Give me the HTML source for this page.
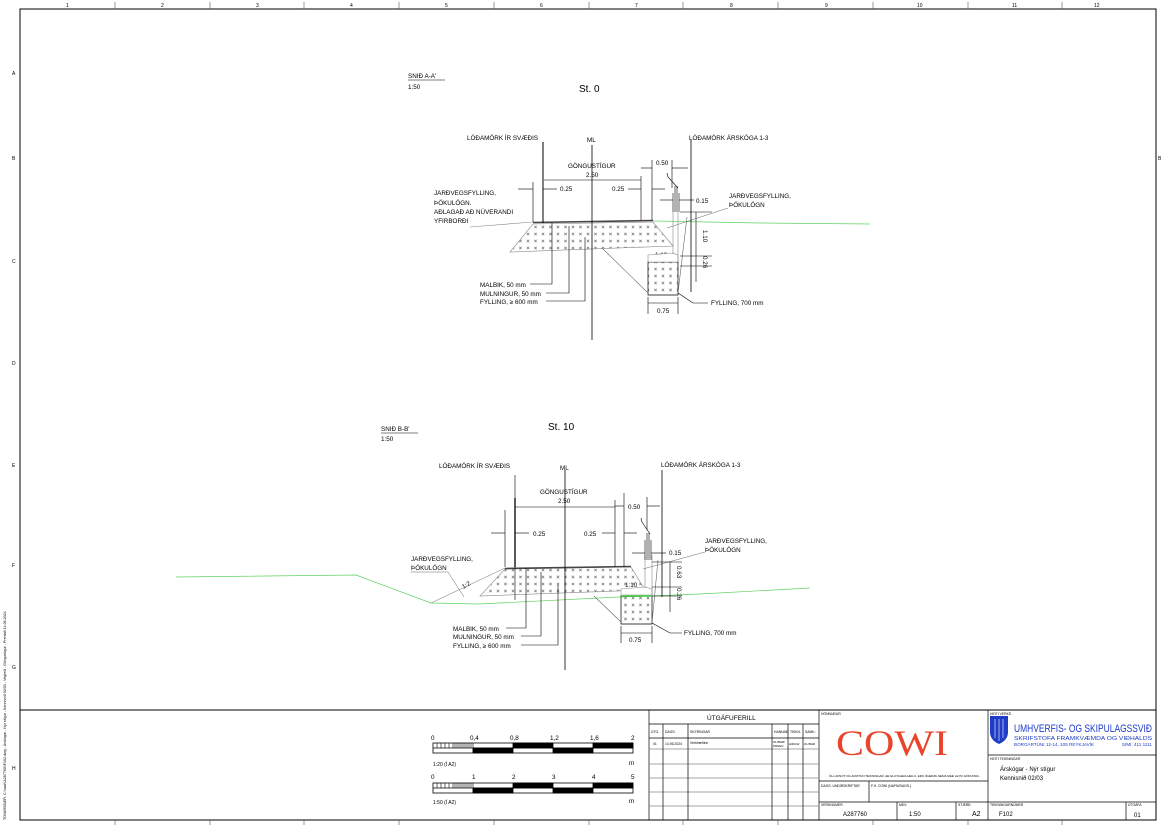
<!DOCTYPE html>
<html><head><meta charset="utf-8"><style>
html,body{margin:0;padding:0;background:#fff}
svg{display:block}
text{font-family:"Liberation Sans",sans-serif;fill:#000}
.t{font-size:6.3px}
.s{font-size:3.6px}
</style></head><body>
<svg width="1162" height="825" viewBox="0 0 1162 825" xmlns="http://www.w3.org/2000/svg">
<defs>
<pattern id="hx" width="7.5" height="7" patternUnits="userSpaceOnUse">
<path d="M1.8 1.8 L4.2 4.2 M4.2 1.8 L1.8 4.2" stroke="#777" stroke-width="0.7"/>
</pattern>
</defs>
<rect width="1162" height="825" fill="#fff"/>
<rect x="20" y="9" width="1136" height="811" fill="none" stroke="#000" stroke-width="1"/>
<line x1="20" y1="710" x2="1156" y2="710" stroke="#000" stroke-width="1"/>
<g stroke="#555" stroke-width="0.6">
<line x1="115" y1="2" x2="115" y2="9"/><line x1="210" y1="2" x2="210" y2="9"/><line x1="304" y1="2" x2="304" y2="9"/><line x1="399" y1="2" x2="399" y2="9"/><line x1="494" y1="2" x2="494" y2="9"/><line x1="589" y1="2" x2="589" y2="9"/><line x1="683" y1="2" x2="683" y2="9"/><line x1="778" y1="2" x2="778" y2="9"/><line x1="873" y1="2" x2="873" y2="9"/><line x1="968" y1="2" x2="968" y2="9"/><line x1="1062" y1="2" x2="1062" y2="9"/>
<line x1="115" y1="820" x2="115" y2="825"/><line x1="210" y1="820" x2="210" y2="825"/><line x1="304" y1="820" x2="304" y2="825"/><line x1="399" y1="820" x2="399" y2="825"/><line x1="494" y1="820" x2="494" y2="825"/><line x1="589" y1="820" x2="589" y2="825"/><line x1="683" y1="820" x2="683" y2="825"/><line x1="778" y1="820" x2="778" y2="825"/><line x1="873" y1="820" x2="873" y2="825"/><line x1="968" y1="820" x2="968" y2="825"/><line x1="1062" y1="820" x2="1062" y2="825"/>
</g>
<g class="t" font-size="5" fill="#333">
<text x="66" y="7" font-size="5">1</text><text x="161" y="7" font-size="5">2</text><text x="256" y="7" font-size="5">3</text><text x="350" y="7" font-size="5">4</text><text x="445" y="7" font-size="5">5</text><text x="540" y="7" font-size="5">6</text><text x="635" y="7" font-size="5">7</text><text x="730" y="7" font-size="5">8</text><text x="825" y="7" font-size="5">9</text><text x="917" y="7" font-size="5">10</text><text x="1012" y="7" font-size="5">11</text><text x="1094" y="7" font-size="5">12</text>
<text x="12" y="75" font-size="5">A</text><text x="12" y="160" font-size="5">B</text><text x="12" y="263" font-size="5">C</text><text x="12" y="365" font-size="5">D</text><text x="12" y="467" font-size="5">E</text><text x="12" y="567" font-size="5">F</text><text x="12" y="669" font-size="5">G</text><text x="12" y="770" font-size="5">H</text>
<text x="1158" y="160" font-size="5">B</text>
</g>
<text transform="translate(6,820) rotate(-90)" font-size="3.6" fill="#555">TOVARSBÆR, C:\\cad\\A287760\\F102.dwg - Árskógar - Nýr stígur - Kennisnið 02/03 - Vegleið - Göngustígur - Prentað 14.06.2024</text>

<!-- SECTION A -->
<text class="t" x="408" y="78" font-size="6.5">SNIÐ A-A'</text>
<line x1="408" y1="80" x2="445" y2="80" stroke="#000" stroke-width="0.6"/>
<text class="t" x="408" y="89" font-size="6.5">1:50</text>
<text x="579" y="92" font-size="10">St. 0</text>
<text class="t" x="467" y="140">LÓÐAMÖRK ÍR SVÆÐIS</text>
<text class="t" x="587" y="142">ML</text>
<text class="t" x="689" y="140">LÓÐAMÖRK ÁRSKÓGA 1-3</text>
<text class="t" x="568" y="168">GÖNGUSTÍGUR</text>
<text class="t" x="586" y="177">2.50</text>
<text class="t" x="434" y="195">JARÐVEGSFYLLING,</text>
<text class="t" x="434" y="205">ÞÖKULÖGN.</text>
<text class="t" x="434" y="214">AÐLAGAÐ AÐ NÚVERANDI</text>
<text class="t" x="434" y="223">YFIRBORÐI</text>
<text class="t" x="729" y="198">JARÐVEGSFYLLING,</text>
<text class="t" x="729" y="207">ÞÖKULÖGN</text>
<text class="t" x="560" y="191">0.25</text>
<text class="t" x="612" y="191">0.25</text>
<text class="t" x="656" y="165">0.50</text>
<text class="t" x="696" y="203">0.15</text>
<text class="t" x="655" y="257">1:10</text>
<text class="t" x="657" y="313">0.75</text>
<text class="t" transform="translate(703,230) rotate(90)">1.10</text>
<text class="t" transform="translate(703,256) rotate(90)">0.26</text>
<text class="t" x="480" y="287">MALBIK, 50 mm</text>
<text class="t" x="480" y="296">MULNINGUR, 50 mm</text>
<text class="t" x="480" y="304">FYLLING, ≥ 600 mm</text>
<text class="t" x="711" y="305">FYLLING, 700 mm</text>
<polyline points="470,227 533,222" fill="none" stroke="#888" stroke-width="0.6"/>
<polyline points="653,221 760,223 870,224" fill="none" stroke="#5fd35f" stroke-width="0.7"/>
<polygon points="533,224 653,222 673,246 510,252" fill="url(#hx)" stroke="#888" stroke-width="0.6"/>
<line x1="533" y1="222.5" x2="653" y2="220.5" stroke="#444" stroke-width="1.6"/>
<polygon points="648,262 678,262 678,295 648,295" fill="url(#hx)" stroke="#000" stroke-width="0.7"/>
<polygon points="648,255 673,253 678,255 678,262 648,262" fill="#fff" stroke="#888" stroke-width="0.6"/>
<line x1="673" y1="212" x2="673" y2="254" stroke="#888" stroke-width="0.6"/>
<line x1="678" y1="212" x2="678" y2="262" stroke="#888" stroke-width="0.6"/>
<line x1="602" y1="248" x2="648" y2="293" stroke="#666" stroke-width="0.6"/>
<line x1="687" y1="217" x2="678" y2="293" stroke="#666" stroke-width="0.6"/>
<polyline points="678,293 693,303 708,303" fill="none" stroke="#000" stroke-width="0.6"/>
<line x1="728" y1="208" x2="667" y2="228" stroke="#666" stroke-width="0.5"/>
<g stroke="#000" stroke-width="0.6" fill="none">
<line x1="673" y1="193" x2="673" y2="212"/><line x1="675" y1="186" x2="675" y2="212"/><line x1="677" y1="186" x2="677" y2="212"/><line x1="679" y1="193" x2="679" y2="212"/>
<polyline points="667,173 668,177 678,188"/>
<line x1="543" y1="142" x2="543" y2="223" stroke-width="1"/>
<line x1="592" y1="145" x2="592" y2="340" stroke-width="0.8"/>
<line x1="691" y1="140" x2="691" y2="292" stroke-width="0.8"/>
<line x1="533" y1="182" x2="533" y2="222"/>
<line x1="641" y1="176" x2="641" y2="220"/>
<line x1="652" y1="160" x2="652" y2="220"/>
<line x1="672" y1="160" x2="672" y2="188"/>
<line x1="544" y1="180" x2="641" y2="180"/>
<line x1="518" y1="189" x2="533" y2="189"/><line x1="543" y1="189" x2="557" y2="189"/>
<line x1="628" y1="189" x2="641" y2="189"/><line x1="652" y1="189" x2="665" y2="189"/>
<line x1="641" y1="168" x2="652" y2="168"/><line x1="672" y1="168" x2="688" y2="168"/>
<line x1="660" y1="200" x2="673" y2="200"/><line x1="679" y1="200" x2="694" y2="200"/>
<line x1="696" y1="212" x2="696" y2="282"/>
<line x1="680" y1="212" x2="712" y2="212"/><line x1="680" y1="256" x2="712" y2="256"/><line x1="680" y1="266" x2="712" y2="266"/>
<line x1="648" y1="297" x2="648" y2="314"/><line x1="678" y1="297" x2="678" y2="314"/>
<line x1="648" y1="303" x2="678" y2="303"/>
<polyline points="530,284 552,284 552,223"/>
<polyline points="546,293 569,293 569,226"/>
<polyline points="546,301 585,301 585,237"/>
</g>

<!-- SECTION B -->
<text class="t" x="381" y="431" font-size="6.5">SNIÐ B-B'</text>
<line x1="381" y1="433" x2="418" y2="433" stroke="#000" stroke-width="0.6"/>
<text class="t" x="381" y="441" font-size="6.5">1:50</text>
<text x="548" y="430" font-size="10">St. 10</text>
<text class="t" x="439" y="468">LÓÐAMÖRK ÍR SVÆÐIS</text>
<text class="t" x="560" y="470">ML</text>
<text class="t" x="661" y="467">LÓÐAMÖRK ÁRSKÓGA 1-3</text>
<text class="t" x="540" y="494">GÖNGUSTÍGUR</text>
<text class="t" x="558" y="503">2.50</text>
<text class="t" x="411" y="561">JARÐVEGSFYLLING,</text>
<text class="t" x="411" y="570">ÞÖKULÖGN</text>
<text class="t" x="705" y="543">JARÐVEGSFYLLING,</text>
<text class="t" x="705" y="552">ÞÖKULÖGN</text>
<text class="t" x="533" y="536">0.25</text>
<text class="t" x="584" y="536">0.25</text>
<text class="t" x="628" y="509">0.50</text>
<text class="t" x="669" y="555">0.15</text>
<text class="t" x="625" y="587">1:10</text>
<text class="t" x="629" y="642">0.75</text>
<text class="t" x="461" y="588" transform="rotate(-30 464 584)">1:2</text>
<text class="t" transform="translate(677,566) rotate(90)">0.63</text>
<text class="t" transform="translate(677,588) rotate(90)">0.26</text>
<text class="t" x="453" y="631">MALBIK, 50 mm</text>
<text class="t" x="453" y="639">MULNINGUR, 50 mm</text>
<text class="t" x="453" y="648">FYLLING, ≥ 600 mm</text>
<text class="t" x="684" y="635">FYLLING, 700 mm</text>
<polyline points="176,577 356,575 431,603 479,604 619,597 652,596 700,594 810,588" fill="none" stroke="#5fd35f" stroke-width="0.7"/>
<polygon points="505,569 631,567 645,590 480,596" fill="url(#hx)" stroke="#888" stroke-width="0.6"/>
<line x1="505" y1="568.5" x2="631" y2="566.5" stroke="#444" stroke-width="1.6"/>
<line x1="431" y1="603" x2="505" y2="568" stroke="#888" stroke-width="0.6"/>
<polygon points="621,596 652,596 652,624 621,624" fill="url(#hx)" stroke="#000" stroke-width="0.7"/>
<line x1="621" y1="596" x2="652" y2="596" stroke="#2c2" stroke-width="1.2"/>
<polygon points="621,589 645,587 652,589 652,595 621,595" fill="#fff" stroke="#888" stroke-width="0.6"/>
<line x1="645" y1="555" x2="645" y2="588" stroke="#888" stroke-width="0.6"/>
<line x1="652" y1="555" x2="652" y2="596" stroke="#888" stroke-width="0.6"/>
<line x1="594" y1="596" x2="621" y2="622" stroke="#666" stroke-width="0.6"/>
<line x1="658" y1="560" x2="652" y2="623" stroke="#666" stroke-width="0.6"/>
<polyline points="652,623 670,633 682,633" fill="none" stroke="#000" stroke-width="0.6"/>
<line x1="705" y1="552" x2="643" y2="569" stroke="#666" stroke-width="0.5"/>
<polyline points="411,572 448,572 464,597" fill="none" stroke="#666" stroke-width="0.5"/>
<g stroke="#000" stroke-width="0.6" fill="none">
<line x1="645" y1="540" x2="645" y2="560"/><line x1="647" y1="533" x2="647" y2="560"/><line x1="649" y1="533" x2="649" y2="560"/><line x1="651" y1="540" x2="651" y2="560"/>
<polyline points="641,518 642,522 650,534"/>
<line x1="515" y1="475" x2="515" y2="600"/>
<line x1="515" y1="498" x2="515" y2="567" stroke-width="1.3"/>
<line x1="565" y1="470" x2="565" y2="670" stroke-width="0.8"/>
<line x1="662" y1="470" x2="662" y2="597" stroke-width="0.8"/>
<line x1="505" y1="510" x2="505" y2="567"/>
<line x1="615" y1="500" x2="615" y2="567"/>
<line x1="624" y1="493" x2="624" y2="567"/>
<line x1="647" y1="497" x2="647" y2="530"/>
<line x1="515" y1="507" x2="615" y2="507"/>
<line x1="491" y1="533" x2="505" y2="533"/><line x1="515" y1="533" x2="529" y2="533"/>
<line x1="602" y1="533" x2="615" y2="533"/><line x1="624" y1="533" x2="637" y2="533"/>
<line x1="615" y1="506" x2="624" y2="506"/><line x1="647" y1="506" x2="660" y2="506"/>
<line x1="632" y1="553" x2="645" y2="553"/><line x1="651" y1="553" x2="666" y2="553"/>
<line x1="670" y1="562" x2="670" y2="612"/>
<line x1="652" y1="562" x2="682" y2="562"/><line x1="652" y1="587" x2="682" y2="587"/><line x1="652" y1="596" x2="682" y2="596"/>
<line x1="621" y1="626" x2="621" y2="643"/><line x1="652" y1="626" x2="652" y2="643"/>
<line x1="621" y1="633" x2="652" y2="633"/>
<polyline points="506,628 526,628 526,568"/>
<polyline points="521,636 541,636 541,572"/>
<polyline points="521,645 558,645 558,585"/>
</g>

<!-- SCALE BARS -->
<g class="t" font-size="6">
<text x="431" y="740">0</text><text x="470" y="740">0,4</text><text x="510" y="740">0,8</text><text x="550" y="740">1,2</text><text x="590" y="740">1,6</text><text x="631" y="740">2</text>
<text x="433" y="766" font-size="5">1:20 (Í A2)</text><text x="629" y="765">m</text>
<text x="431" y="779">0</text><text x="472" y="779">1</text><text x="512" y="779">2</text><text x="552" y="779">3</text><text x="592" y="779">4</text><text x="631" y="779">5</text>
<text x="433" y="804" font-size="5">1:50 (Í A2)</text><text x="629" y="803">m</text>
</g>
<g stroke="#000" stroke-width="0.8">
<rect x="433" y="743" width="200" height="10" fill="#fff"/>
<rect x="473" y="748" width="40" height="5" fill="#000"/><rect x="513" y="743" width="40" height="5" fill="#000"/><rect x="553" y="748" width="40" height="5" fill="#000"/><rect x="593" y="743" width="40" height="5" fill="#000"/>
<line x1="433" y1="748" x2="633" y2="748"/>
<path d="M437 743v5M441 743v5M445 743v5M449 743v5M453 743v5M455 743v5M457 743v5M459 743v5M461 743v5M463 743v5M465 743v5M467 743v5M469 743v5M471 743v5M473 743v10" stroke-width="0.6"/>
<rect x="433" y="783" width="200" height="10" fill="#fff"/>
<rect x="473" y="788" width="40" height="5" fill="#000"/><rect x="513" y="783" width="40" height="5" fill="#000"/><rect x="553" y="788" width="40" height="5" fill="#000"/><rect x="593" y="783" width="40" height="5" fill="#000"/>
<line x1="433" y1="788" x2="633" y2="788"/>
<path d="M437 783v5M441 783v5M445 783v5M449 783v5M453 783v5M455 783v5M457 783v5M459 783v5M461 783v5M463 783v5M465 783v5M467 783v5M469 783v5M471 783v5M473 783v10" stroke-width="0.6"/>
</g>

<!-- TITLE BLOCK -->
<g stroke="#000" stroke-width="0.7" fill="none">
<line x1="649" y1="710" x2="649" y2="820"/>
<line x1="819" y1="710" x2="819" y2="820"/>
<line x1="988" y1="710" x2="988" y2="820"/>
<line x1="649" y1="724" x2="819" y2="724"/>
<line x1="649" y1="738" x2="819" y2="738"/>
<line x1="649" y1="749" x2="819" y2="749" stroke="#888"/>
<line x1="649" y1="764" x2="819" y2="764" stroke="#888"/>
<line x1="649" y1="778" x2="819" y2="778" stroke="#888"/>
<line x1="649" y1="792" x2="819" y2="792" stroke="#888"/>
<line x1="649" y1="806" x2="819" y2="806" stroke="#888"/>
<line x1="663" y1="724" x2="663" y2="820"/><line x1="688" y1="724" x2="688" y2="820"/><line x1="772" y1="724" x2="772" y2="820"/><line x1="788" y1="724" x2="788" y2="820"/><line x1="803" y1="724" x2="803" y2="820"/>
<line x1="819" y1="781" x2="988" y2="781"/><line x1="819" y1="802" x2="1156" y2="802"/>
<line x1="869" y1="781" x2="869" y2="802"/><line x1="897" y1="802" x2="897" y2="820"/><line x1="956" y1="802" x2="956" y2="820"/>
<line x1="988" y1="755" x2="1156" y2="755"/><line x1="1126" y1="802" x2="1126" y2="820"/>
</g>
<text x="707" y="720" font-size="6.5">ÚTGÁFUFERILL</text>
<g class="s">
<text x="651" y="733" font-size="3.4">ÚTG.</text><text x="665" y="733" font-size="3.4">DAGS.</text><text x="690" y="733" font-size="3.4">SKÝRINGAR</text><text x="774" y="733" font-size="3.4">HANNAÐ</text><text x="790" y="733" font-size="3.4">TEIKN.</text><text x="805" y="733" font-size="3.4">SAMÞ.</text>
<text x="653" y="745" font-size="3.4">01</text><text x="665" y="745" font-size="3.4">14.06.2024</text><text x="690" y="744" font-size="3.4">Verkfræðinn</text><text x="773" y="743" font-size="3">OL/BHR/</text><text x="773" y="747" font-size="3">KRGEV</text><text x="789" y="745" font-size="3">HIR/LW</text><text x="804" y="745" font-size="3">OL/BHR</text>
<text x="821" y="715" font-size="3.4">HÖNNUÐUR</text>
<text x="829" y="777" font-size="3">ÖLL AFNOT OG AFRITUN TEIKNINGAR, AÐ HLUTA EÐA HEILU, ERU ÓHEIMIL NEMA MEÐ LEYFI HÖFUNDA.</text>
<text x="821" y="787" font-size="3.4">DAGS. UNDIRSKRIFTAR</text><text x="871" y="787" font-size="3.4">F.H. COWI (NAFN/DAGS.)</text>
<text x="821" y="806" font-size="3.4">VERKNÚMER</text><text x="899" y="806" font-size="3.4">MKV.</text><text x="958" y="806" font-size="3.4">STÆRÐ</text>
<text x="990" y="715" font-size="3.4">HEITI VERKS</text><text x="990" y="760" font-size="3.4">HEITI TEIKNINGAR</text>
<text x="990" y="806" font-size="3.4">TEIKNINGARNÚMER</text><text x="1128" y="806" font-size="3.4">ÚTGÁFA</text>
</g>
<text x="836" y="755" style="font-family:'Liberation Serif',serif;fill:#e8452c;font-size:36px" textLength="112" lengthAdjust="spacingAndGlyphs">COWI</text>
<path d="M990 716 H1008 V732 Q1008 740 999 744 Q990 740 990 732 Z" fill="#1e3cc8"/>
<g stroke="#fff" stroke-width="0.6"><line x1="995" y1="719" x2="995" y2="738"/><line x1="999" y1="719" x2="999" y2="741"/><line x1="1003" y1="719" x2="1003" y2="738"/></g>
<text x="1014" y="732" style="fill:#1e3cc8;font-size:11px" textLength="138" lengthAdjust="spacingAndGlyphs">UMHVERFIS- OG SKIPULAGSSVIÐ</text>
<text x="1014" y="740" style="fill:#1e3cc8;font-size:5.5px" textLength="138" lengthAdjust="spacingAndGlyphs">SKRIFSTOFA FRAMKVÆMDA OG VIÐHALDS</text>
<text x="1014" y="746" style="fill:#1e3cc8;font-size:4.6px">BORGARTÚNI 12-14, 105 REYKJAVÍK</text>
<text x="1122" y="746" style="fill:#1e3cc8;font-size:4.6px">SÍMI: 411 1111</text>
<text x="1000" y="771" font-size="6">Árskógar - Nýr stígur</text>
<text x="1000" y="780" font-size="6">Kennisnið 02/03</text>
<text x="843" y="816" font-size="6">A287760</text>
<text x="909" y="816" font-size="6">1:50</text>
<text x="972" y="816" font-size="7">A2</text>
<text x="999" y="816" font-size="6">F102</text>
<text x="1134" y="817" font-size="6">01</text>
</svg>
</body></html>
